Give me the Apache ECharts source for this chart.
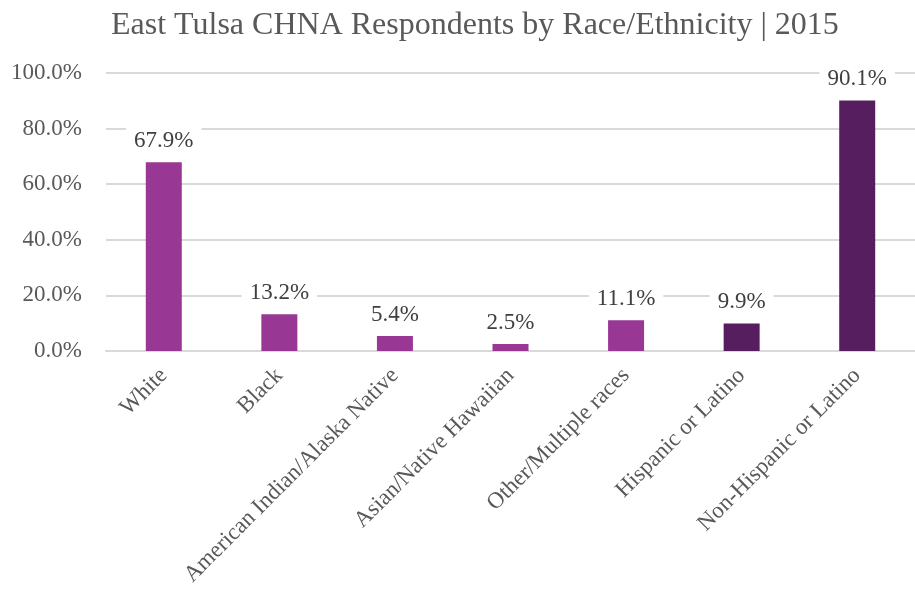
<!DOCTYPE html>
<html>
<head>
<meta charset="utf-8">
<script src="https://cdn.jsdelivr.net/npm/echarts@6/dist/echarts.min.js"></script>
<style>
  html, body { margin: 0; padding: 0; background: #fff; }
  #chart { width: 915px; height: 595px; }
</style>
</head>
<body>
<div id="chart"></div>
<script>
// Respondent shares by race / ethnicity (percent)
const categories = [
  'White',
  'Black',
  'American Indian/Alaska Native',
  'Asian/Native Hawaiian',
  'Other/Multiple races',
  'Hispanic or Latino',
  'Non-Hispanic or Latino'
];
const values = [67.9, 13.2, 5.4, 2.5, 11.1, 9.9, 90.1];
const barColors = ['#993894', '#993894', '#993894', '#993894', '#993894', '#561E5E', '#561E5E'];
const yTicks = [0, 20, 40, 60, 80, 100];

const font = '"Liberation Serif", "Times New Roman", serif';
const chart = echarts.init(document.getElementById('chart'), null, { renderer: 'canvas' });

chart.setOption({
  animation: false,
  textStyle: { fontFamily: font },
  title: {
    text: 'East Tulsa CHNA Respondents by Race/Ethnicity | 2015',
    left: 106,
    top: 5,
    textStyle: { fontFamily: font, fontSize: 32, fontWeight: 'normal', color: '#595959' }
  },
  grid: { left: 106, right: 0, top: 73, bottom: 244, containLabel: false },
  xAxis: {
    type: 'category',
    data: categories,
    axisLine: { lineStyle: { color: '#d9d9d9', width: 2 } },
    axisTick: { show: false },
    axisLabel: {
      interval: 0,
      rotate: 45,
      margin: 21,
      padding: [0, 0, 0, 0],
      fontFamily: font,
      fontSize: 23,
      color: '#595959'
    }
  },
  yAxis: {
    type: 'value',
    min: yTicks[0],
    max: yTicks[yTicks.length - 1],
    interval: yTicks[1] - yTicks[0],
    axisLine: { show: false },
    axisTick: { show: false },
    splitLine: { lineStyle: { color: '#d9d9d9', width: 2 } },
    axisLabel: {
      margin: 24,
      fontFamily: font,
      fontSize: 23,
      color: '#595959',
      formatter: v => v.toFixed(1) + '%'
    }
  },
  series: [{
    type: 'bar',
    barWidth: 36,
    data: values.map((v, i) => ({ value: v, itemStyle: { color: barColors[i] } })),
    label: {
      show: true,
      position: 'top',
      distance: 8,
      fontFamily: font,
      fontSize: 23,
      color: '#404040',
      backgroundColor: '#ffffff',
      padding: [2, 8],
      formatter: p => p.value.toFixed(1) + '%'
    }
  }]
});
</script>
</body>
</html>
